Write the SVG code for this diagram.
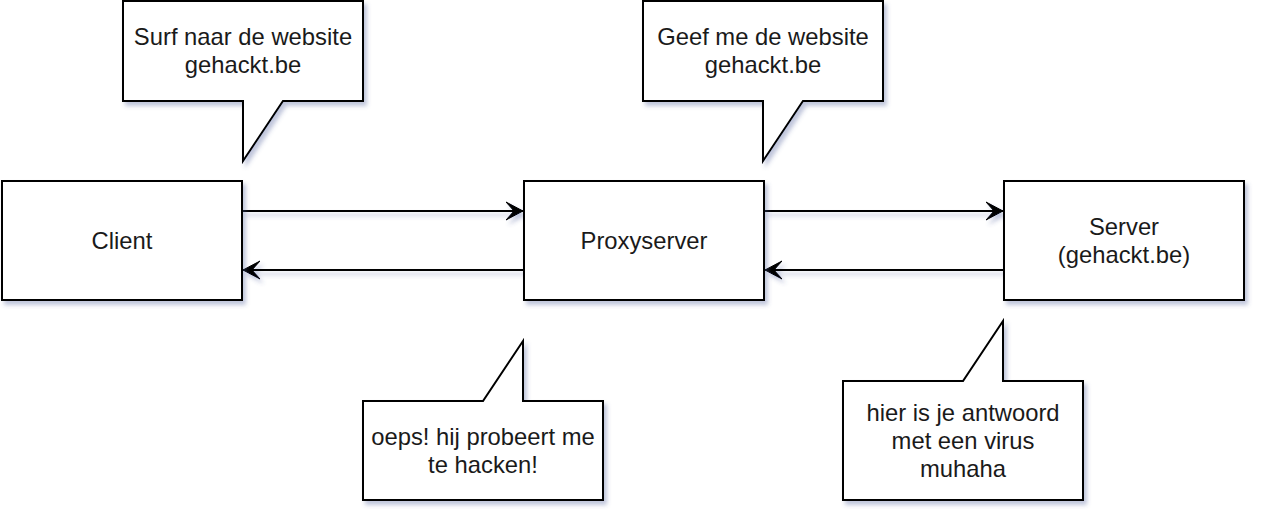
<svg xmlns="http://www.w3.org/2000/svg" width="1268" height="524" viewBox="0 0 1268 524">
  <defs>
    <filter id="sh" filterUnits="userSpaceOnUse" x="-20" y="-20" width="1310" height="570">
      <feDropShadow dx="3" dy="4" stdDeviation="2.2" flood-color="#4a5a99" flood-opacity="0.35"/>
    </filter>
    <marker id="arr" markerUnits="userSpaceOnUse" markerWidth="20" markerHeight="20" refX="17" refY="10" orient="auto" viewBox="0 0 20 20">
      <path d="M17,10 L0,1 L8,10 L0,19 Z" fill="#000" stroke="#000" stroke-width="1"/>
    </marker>
    <style>
      .box { fill: #fff; stroke: #000; stroke-width: 2; filter: url(#sh); }
      .edge { fill: none; stroke: #000; stroke-width: 2; marker-end: url(#arr); }
      .edges { filter: url(#sh); }
      text { font-family: "Liberation Sans", Arial, sans-serif; font-size: 23.8px; fill: #1a1a1a; text-anchor: middle; }
    </style>
  </defs>

  <g id="connectors" class="edges">
    <path class="edge" d="M242,211 L523,211"/>
    <path class="edge" d="M524,270 L243,270"/>
    <path class="edge" d="M764,211 L1003,211"/>
    <path class="edge" d="M1004,270 L765,270"/>
  </g>

  <g id="client">
    <rect class="box" x="2" y="181" width="240" height="119"/>
    <text x="122" y="249">Client</text>
  </g>
  <g id="proxyserver">
    <rect class="box" x="524" y="181" width="240" height="119"/>
    <text x="644" y="249">Proxyserver</text>
  </g>
  <g id="server">
    <rect class="box" x="1004" y="181" width="240" height="119"/>
    <text x="1124" y="235">Server</text>
    <text x="1124" y="263">(gehackt.be)</text>
  </g>

  <g id="callout-surf">
    <path class="box" d="M123,1 H363 V101 H283 L243,161 V101 H123 Z"/>
    <text x="243" y="45">Surf naar de website</text>
    <text x="243" y="73">gehackt.be</text>
  </g>
  <g id="callout-geef">
    <path class="box" d="M643,1 H883 V101 H803 L763,161 V101 H643 Z"/>
    <text x="763" y="45">Geef me de website</text>
    <text x="763" y="73">gehackt.be</text>
  </g>
  <g id="callout-oeps">
    <path class="box" d="M363,401 H483 L523,341 V401 H603 V500 H363 Z"/>
    <text x="483" y="445">oeps! hij probeert me</text>
    <text x="483" y="473">te hacken!</text>
  </g>
  <g id="callout-hier">
    <path class="box" d="M843,381 H963 L1003,321 V381 H1083 V500 H843 Z"/>
    <text x="963" y="421">hier is je antwoord</text>
    <text x="963" y="449">met een virus</text>
    <text x="963" y="477">muhaha</text>
  </g>
</svg>
